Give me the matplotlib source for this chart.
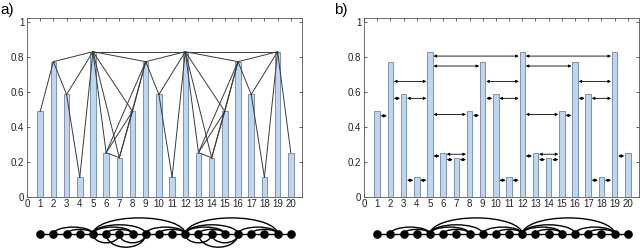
import numpy as np
import matplotlib.pyplot as plt
from matplotlib.patches import Arc

# dados (serie periodica)
x = np.arange(1, 21)
valores = [0.49, 0.775, 0.587, 0.113, 0.832, 0.254, 0.225, 0.49, 0.775, 0.587,
           0.113, 0.832, 0.254, 0.225, 0.49, 0.775, 0.587, 0.113, 0.832, 0.254]

# arestas do grafo de visibilidade horizontal (HVG) e altura das setas no painel b
hvg_arestas = [(1, 2), (2, 3), (2, 5), (3, 4), (3, 5), (4, 5),
               (5, 6), (5, 8), (5, 9), (5, 12), (6, 7), (6, 8), (7, 8), (8, 9),
               (9, 10), (9, 12), (10, 11), (10, 12), (11, 12),
               (12, 13), (12, 15), (12, 16), (12, 19), (13, 14), (13, 15), (14, 15), (15, 16),
               (16, 17), (16, 19), (17, 18), (17, 19), (18, 19), (19, 20)]
altura_setas = [0.465, 0.565, 0.662, 0.096, 0.565, 0.096,
                0.235, 0.473, 0.75, 0.807, 0.214, 0.245, 0.214, 0.467,
                0.565, 0.662, 0.096, 0.565, 0.096,
                0.235, 0.473, 0.75, 0.807, 0.214, 0.245, 0.214, 0.467,
                0.565, 0.662, 0.096, 0.565, 0.096, 0.235]

# arestas extras do grafo de visibilidade natural (NVG)
nvg_extras = [(5, 7), (6, 9), (7, 9), (12, 14), (13, 16), (14, 16)]

W, H = 640, 248
cor_barra = '#bcd6f3'
cor_borda = '#8093ad'
larg = 0.42

plt.rcParams['font.family'] = ['Liberation Sans', 'DejaVu Sans']
fig = plt.figure(figsize=(6.4, 2.48), dpi=100)


def px(l, t, r, b):
    # retangulo em pixels -> coords da figura
    return [l / W, 1 - b / H, (r - l) / W, (b - t) / H]


def eixo_barras(rect):
    ax = fig.add_axes(rect)
    ax.bar(x, valores, width=larg, color=cor_barra, edgecolor=cor_borda, linewidth=0.7, zorder=2)
    ax.set_xlim(0, 20.85)
    ax.set_ylim(0, 1.025)
    ax.set_xticks(range(0, 21))
    ax.set_yticks([0, 0.2, 0.4, 0.6, 0.8, 1])
    ax.set_yticklabels(['0', '0.2', '0.4', '0.6', '0.8', '1'])
    ax.tick_params(direction='in', length=2.5, width=0.5, top=True, right=True,
                   labelsize=7, colors='#222222', pad=2)
    ax.tick_params(axis='x', pad=1.5)
    for s in ax.spines.values():
        s.set_linewidth(0.6)
        s.set_color('#555555')
    return ax


def eixo_grafo(rect, acima, abaixo):
    ax = fig.add_axes(rect)
    ax.set_xlim(0, 20.85)
    ax.set_ylim(-14, 22)
    ax.axis('off')
    ax.plot([1, 20], [0, 0], color='k', lw=1.0, zorder=1)
    for i, j in acima:
        n = j - i
        if n > 1:
            ax.add_patch(Arc(((i + j) / 2, 0), n, 2 * 2.3 * n, theta1=0, theta2=180,
                             color='k', lw=1.0, clip_on=False))
    for i, j in abaixo:
        n = j - i
        ax.add_patch(Arc(((i + j) / 2, 0), n, 2 * 4.4 * n, theta1=180, theta2=360,
                         color='k', lw=1.0, clip_on=False))
    ax.plot(x, np.zeros(len(x)), 'o', color='k', markersize=5.2, zorder=3, clip_on=False)
    return ax


# painel a) - visibilidade natural
ax_a = eixo_barras(px(27, 18, 302, 197))
for i, j in hvg_arestas + nvg_extras:
    ax_a.plot([i, j], [valores[i - 1], valores[j - 1]], color='#3a3a3a', lw=0.7, zorder=3)
eixo_grafo(px(27, 212, 302, 248), hvg_arestas, nvg_extras)

# painel b) - visibilidade horizontal
ax_b = eixo_barras(px(364, 18, 639, 197))
for (i, j), h in zip(hvg_arestas, altura_setas):
    ax_b.annotate('', xy=(j - larg / 2 - 0.06, h), xytext=(i + larg / 2 + 0.06, h),
                  arrowprops=dict(arrowstyle='<|-|>', color='k', lw=0.6,
                                  mutation_scale=4, shrinkA=0, shrinkB=0), zorder=3)
eixo_grafo(px(364, 212, 639, 248), hvg_arestas, [])

fig.text(0 / W, 1 - 14 / H, 'a)', fontsize=11, va='baseline', ha='left')
fig.text(334 / W, 1 - 14 / H, 'b)', fontsize=11, va='baseline', ha='left')

plt.savefig('out.png', dpi=100)
